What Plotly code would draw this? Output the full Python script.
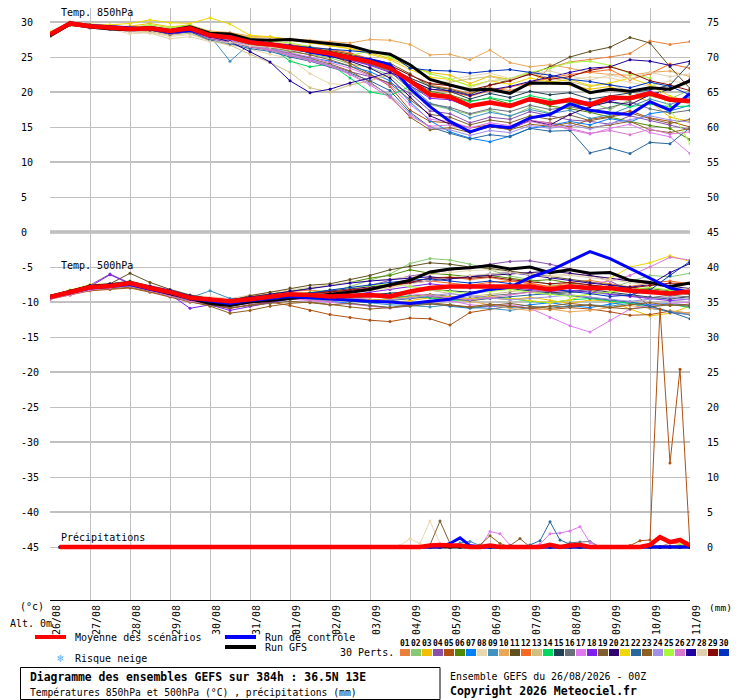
import plotly.graph_objects as go

# echeances (h) : temperatures toutes les 12h, precipitations toutes les 6h
hours = list(range(0, 385, 12))
rr_hours = list(range(6, 385, 6))
rr_first = 204   # avant cette echeance : aucune precipitation

date_hours = list(range(0, 385, 24))
date_labels = ["26/08", "27/08", "28/08", "29/08", "30/08", "31/08", "01/09", "02/09", "03/09",
               "04/09", "05/09", "06/09", "07/09", "08/09", "09/09", "10/09", "11/09"]
left_ticks = list(range(-45, 31, 5))
right_ticks = list(range(0, 76, 5))

pert_names = ["%02d" % i for i in range(1, 31)]
pert_colors = ["#e8803a", "#88c870", "#f0c000", "#8850a8", "#b05010", "#508800",
               "#0080ff", "#e8d8b0", "#4090c0", "#e8a858", "#605020", "#f86820",
               "#d0c080", "#00d860", "#204058", "#687078", "#e078f0", "#8020f0",
               "#806030", "#300070", "#f0d800", "#2868a0", "#906020", "#a090e8",
               "#a8f840", "#d878d0", "#2000a0", "#e0d0b0", "#880808", "#0030c0"]

# ---------------- Temp. 850hPa ----------------
t850_mean = [28.2, 29.8, 29.4, 29.2, 29.0, 29.1, 28.7, 29.1, 28.1, 27.8, 27.1, 26.8, 26.4, 26.0, 25.5, 24.9, 24.3,
             23.4, 21.6, 19.6, 19.3, 18.0, 18.5, 18.0, 19.0, 18.4, 18.9, 18.2, 19.2, 19.1, 19.8, 18.9, 18.7]
t850_ctrl = [28.3, 29.9, 29.5, 29.3, 29.1, 29.0, 28.5, 28.8, 28.0, 27.9, 27.2, 26.9, 26.5, 25.7, 25.2, 25.0, 24.6,
             23.9, 20.5, 17.9, 15.8, 14.3, 15.2, 14.9, 16.3, 16.8, 18.3, 17.4, 17.0, 16.8, 18.6, 17.4, 19.8]
t850_gfs = [28.0, 29.7, 29.3, 29.0, 28.9, 29.2, 28.8, 29.3, 28.4, 28.3, 27.5, 27.4, 27.5, 27.2, 27.0, 26.6, 25.8,
            25.4, 23.9, 21.8, 21.0, 20.3, 20.4, 19.8, 21.3, 21.3, 21.2, 19.9, 20.4, 20.1, 20.6, 20.4, 21.6]

t850_p01 = [28.0, 29.6, 29.3, 29.0, 28.8, 29.2, 28.5, 28.9, 28.0, 27.5, 26.8, 26.6, 26.5, 26.3, 26.0, 25.4, 24.5,
            23.8, 22.5, 21.0, 20.5, 19.8, 20.6, 20.2, 21.0, 23.5, 24.3, 24.6, 25.0, 25.5, 27.3, 26.8, 27.2]
t850_p02 = [28.4, 29.9, 29.5, 29.4, 29.1, 29.0, 28.9, 29.3, 28.3, 27.6, 27.0, 26.5, 25.7, 25.4, 24.9, 24.0, 23.5,
            22.4, 20.0, 18.2, 17.5, 16.8, 17.4, 16.5, 17.8, 17.0, 17.9, 18.6, 17.5, 18.9, 19.4, 19.0, 20.3]
t850_p03 = [28.1, 29.7, 29.6, 29.3, 29.4, 29.8, 29.3, 29.6, 28.6, 28.4, 27.8, 27.9, 27.4, 27.0, 26.6, 26.2, 25.6,
            24.8, 23.6, 22.8, 22.4, 21.2, 22.3, 21.8, 22.6, 21.5, 21.0, 20.4, 20.8, 19.6, 18.6, 16.4, 15.8]
t850_p04 = [28.3, 29.8, 29.2, 29.1, 28.6, 28.9, 28.2, 28.6, 27.6, 27.1, 26.4, 26.0, 25.2, 24.6, 23.8, 22.9, 22.2,
            21.3, 19.8, 17.3, 16.9, 15.6, 16.4, 16.1, 17.2, 16.6, 16.0, 15.8, 15.4, 16.6, 15.9, 15.2, 14.6]
t850_p05 = [28.0, 29.6, 29.4, 29.2, 29.0, 29.1, 28.4, 28.9, 28.2, 27.9, 27.0, 26.9, 26.6, 26.1, 25.3, 24.1, 22.6,
            20.8, 17.4, 15.8, 15.6, 14.9, 15.3, 15.0, 15.9, 15.6, 15.0, 16.1, 16.5, 17.3, 16.3, 15.8, 15.0]
t850_p06 = [28.4, 29.9, 29.3, 29.2, 29.1, 29.3, 28.9, 29.2, 28.3, 27.6, 27.2, 26.9, 26.2, 25.8, 25.1, 24.6, 23.9,
            23.1, 21.8, 20.1, 19.6, 18.7, 19.1, 18.3, 18.8, 18.0, 17.6, 17.1, 16.4, 15.8, 15.2, 14.8, 13.2]
t850_p07 = [28.2, 29.8, 29.4, 29.1, 29.2, 28.9, 28.6, 29.0, 27.9, 27.8, 26.9, 26.3, 25.5, 24.9, 24.4, 23.7, 22.9,
            21.6, 18.6, 15.9, 14.3, 13.4, 12.9, 13.7, 14.8, 15.2, 15.8, 15.3, 16.2, 15.7, 16.9, 17.3, 18.1]
t850_p08 = [27.9, 29.5, 29.5, 29.0, 28.3, 28.5, 27.9, 28.2, 27.4, 26.8, 26.1, 25.4, 24.8, 22.6, 21.2, 21.0, 21.6,
            22.8, 21.4, 20.6, 21.8, 22.3, 22.7, 21.9, 23.0, 22.5, 21.8, 22.1, 22.0, 21.4, 20.8, 21.6, 21.2]
t850_p09 = [28.3, 29.7, 29.3, 29.2, 29.0, 29.2, 28.8, 29.1, 28.0, 24.4, 26.9, 26.7, 26.0, 25.7, 25.3, 24.8, 24.0,
            23.2, 20.9, 18.4, 17.6, 16.3, 17.1, 16.6, 17.5, 16.9, 17.4, 16.2, 16.8, 17.9, 19.0, 18.2, 19.3]
t850_p10 = [28.5, 30.0, 29.6, 29.4, 29.3, 29.4, 29.1, 29.5, 28.7, 28.5, 28.0, 27.8, 27.6, 27.4, 27.2, 27.0, 27.5,
            27.4, 26.8, 25.3, 25.4, 24.6, 26.0, 24.2, 23.6, 23.9, 23.4, 22.8, 22.5, 22.4, 22.8, 23.0, 22.2]
t850_p11 = [28.2, 29.8, 29.5, 29.3, 29.1, 29.0, 28.6, 28.8, 28.0, 27.7, 27.0, 26.8, 26.5, 26.2, 25.9, 25.4, 24.8,
            24.1, 22.6, 20.8, 20.4, 19.6, 21.0, 21.8, 22.5, 23.6, 25.0, 25.8, 26.4, 27.8, 27.0, 23.6, 20.5]
t850_p12 = [28.3, 29.9, 29.5, 29.3, 29.0, 29.2, 28.8, 29.2, 28.4, 28.0, 27.3, 27.1, 26.8, 26.5, 26.1, 25.6, 24.7,
            23.6, 21.7, 20.4, 20.0, 19.4, 20.2, 20.7, 21.4, 22.0, 22.5, 22.9, 23.2, 21.8, 22.6, 24.0, 23.4]
t850_p13 = [28.1, 29.7, 29.2, 29.0, 28.7, 28.6, 28.1, 28.4, 27.3, 26.7, 25.4, 24.2, 22.8, 20.6, 20.0, 21.0, 21.6,
            22.5, 21.9, 21.0, 21.4, 21.9, 22.2, 21.6, 22.8, 22.0, 21.5, 20.8, 21.2, 20.0, 19.4, 18.8, 18.3]
t850_p14 = [28.0, 29.6, 29.3, 29.1, 29.0, 29.0, 28.5, 28.9, 28.0, 27.6, 26.9, 26.5, 24.4, 23.6, 24.0, 22.0, 20.0,
            19.5, 20.8, 19.5, 19.3, 18.6, 19.2, 18.7, 19.5, 18.9, 18.4, 18.1, 18.6, 17.9, 18.3, 17.9, 18.0]
t850_p15 = [28.3, 29.8, 29.4, 29.3, 29.1, 29.1, 28.7, 29.0, 28.1, 27.8, 27.1, 26.9, 26.5, 26.0, 25.4, 24.8, 24.3,
            23.5, 22.0, 20.8, 20.1, 19.0, 19.8, 19.2, 20.1, 19.6, 19.9, 19.0, 19.4, 19.8, 20.3, 21.0, 24.1]
t850_p16 = [28.4, 29.9, 29.6, 29.4, 29.3, 29.4, 28.9, 29.3, 28.4, 28.1, 27.4, 27.0, 26.6, 26.1, 25.6, 24.9, 24.0,
            22.9, 20.4, 18.3, 17.8, 16.9, 17.6, 17.2, 18.1, 17.5, 17.9, 17.3, 17.8, 18.6, 17.6, 17.0, 17.4]
t850_p17 = [28.2, 29.7, 29.2, 29.1, 28.9, 29.0, 28.4, 28.8, 27.8, 27.4, 26.6, 26.2, 25.6, 25.0, 24.2, 23.4, 22.3,
            21.0, 18.2, 16.1, 15.8, 14.9, 15.6, 15.2, 16.0, 15.5, 14.6, 14.0, 14.8, 15.4, 14.2, 13.6, 11.2]
t850_p18 = [28.3, 29.8, 29.4, 29.2, 29.0, 29.2, 28.7, 29.0, 28.2, 27.9, 27.2, 26.8, 26.4, 25.9, 25.3, 24.6, 23.8,
            22.8, 20.9, 19.1, 18.9, 17.8, 18.6, 18.1, 18.8, 18.3, 19.0, 18.5, 18.7, 19.3, 20.1, 19.2, 18.9]
t850_p19 = [28.1, 29.7, 29.3, 29.2, 29.0, 29.0, 28.6, 28.9, 27.9, 27.6, 26.8, 26.4, 25.9, 25.3, 24.6, 23.7, 22.5,
            21.2, 18.9, 16.8, 16.4, 15.3, 16.0, 15.6, 16.6, 16.1, 16.7, 15.9, 16.4, 17.0, 16.2, 15.5, 16.1]
t850_p20 = [28.2, 29.8, 29.5, 29.3, 29.0, 29.1, 28.6, 29.0, 28.1, 27.8, 27.1, 26.7, 26.2, 25.7, 25.1, 24.4, 23.4,
            22.0, 19.3, 16.6, 15.4, 14.4, 15.0, 14.7, 15.9, 15.3, 16.8, 17.9, 18.6, 18.2, 19.6, 20.4, 21.8]
t850_p21 = [28.6, 30.0, 29.7, 29.6, 29.8, 30.3, 29.9, 29.8, 30.6, 29.7, 28.1, 27.9, 27.5, 27.1, 26.7, 26.2, 25.4,
            24.6, 23.2, 22.1, 21.8, 20.9, 21.6, 21.1, 22.0, 21.4, 21.8, 20.9, 21.3, 22.0, 21.0, 19.4, 18.6]
t850_p22 = [28.3, 29.7, 29.3, 29.1, 28.8, 28.9, 28.3, 28.6, 27.4, 26.9, 26.2, 25.8, 25.0, 24.4, 23.6, 22.7, 21.6,
            20.2, 17.1, 15.0, 14.1, 13.3, 13.9, 13.6, 14.8, 14.4, 14.5, 11.3, 12.0, 11.2, 12.8, 12.6, 14.9]
t850_p23 = [28.0, 29.5, 29.2, 29.0, 28.8, 28.8, 28.3, 28.7, 27.7, 27.3, 26.5, 26.1, 25.5, 24.8, 24.0, 23.0, 21.4,
            19.4, 16.4, 14.6, 14.9, 14.2, 15.1, 14.6, 15.4, 15.1, 15.6, 14.9, 15.3, 15.8, 14.6, 14.2, 14.8]
t850_p24 = [28.2, 29.8, 29.4, 29.2, 29.0, 29.0, 28.5, 28.8, 27.8, 27.4, 26.6, 26.1, 25.4, 24.7, 23.8, 22.6, 21.2,
            19.6, 16.9, 14.9, 14.6, 13.8, 14.5, 14.2, 15.2, 14.8, 15.3, 14.7, 15.5, 16.0, 16.6, 16.0, 15.7]
t850_p25 = [28.4, 29.9, 29.6, 29.4, 29.2, 29.6, 29.2, 29.5, 28.5, 28.2, 27.6, 27.3, 27.0, 26.5, 25.9, 25.2, 25.9,
            25.0, 23.8, 22.6, 21.9, 20.8, 21.6, 21.9, 22.8, 23.4, 24.2, 24.4, 23.8, 22.6, 22.0, 17.6, 12.6]
t850_p26 = [28.1, 29.6, 29.1, 29.0, 28.8, 28.9, 28.4, 28.7, 27.7, 27.3, 26.5, 26.0, 25.2, 24.5, 23.7, 22.5, 21.0,
            19.2, 16.6, 15.1, 15.3, 14.4, 15.1, 14.9, 15.8, 15.2, 14.8, 14.1, 14.5, 13.9, 14.7, 14.0, 14.3]
t850_p27 = [28.3, 29.8, 29.4, 29.2, 29.0, 29.0, 28.5, 28.9, 27.9, 27.2, 25.8, 24.3, 21.6, 19.9, 20.4, 21.3, 22.0,
            22.8, 21.7, 20.4, 20.2, 19.5, 20.3, 20.8, 21.5, 22.2, 22.8, 23.4, 23.6, 24.6, 24.4, 23.8, 24.4]
t850_p28 = [28.0, 29.6, 29.3, 29.1, 28.6, 28.4, 27.6, 27.9, 27.2, 27.1, 26.6, 26.4, 26.0, 25.8, 25.4, 25.0, 24.6,
            24.0, 22.4, 21.3, 21.0, 20.6, 21.6, 21.8, 22.6, 23.0, 22.3, 21.7, 22.4, 21.9, 22.8, 22.2, 22.6]
t850_p29 = [28.4, 29.9, 29.5, 29.3, 29.1, 29.2, 28.8, 29.1, 28.2, 27.9, 27.3, 27.0, 26.7, 26.3, 25.8, 25.2, 24.6,
            23.8, 22.4, 21.2, 20.9, 20.3, 21.0, 21.6, 22.6, 21.8, 22.2, 23.1, 23.6, 22.8, 21.6, 21.0, 20.2]
t850_p30 = [28.2, 29.8, 29.6, 29.3, 29.1, 29.1, 28.7, 29.1, 28.1, 27.8, 27.2, 26.9, 26.6, 26.4, 26.1, 25.9, 25.6,
            25.4, 23.4, 23.1, 23.0, 22.7, 23.0, 23.2, 22.8, 22.4, 21.8, 21.5, 21.0, 20.6, 21.4, 20.8, 19.6]

# ---------------- Temp. 500hPa ----------------
t500_mean = [-9.3, -8.6, -7.9, -7.7, -7.3, -8.0, -8.6, -9.4, -9.7, -9.9, -9.6, -9.3, -8.9, -9.0, -9.2, -9.1, -9.0,
             -9.2, -8.5, -8.0, -7.8, -7.8, -7.8, -7.9, -7.8, -8.2, -7.8, -8.0, -8.0, -8.4, -8.6, -8.8, -8.5]
t500_ctrl = [-9.3, -8.7, -8.0, -7.8, -7.5, -8.2, -8.7, -9.5, -9.9, -10.2, -9.8, -9.5, -9.2, -9.4, -9.6, -9.8, -9.9,
             -10.0, -10.2, -9.9, -9.6, -8.8, -8.2, -7.9, -6.5, -5.5, -4.2, -2.8, -3.8, -5.2, -6.6, -8.0, -8.6]
t500_gfs = [-9.2, -8.5, -7.8, -7.6, -7.4, -8.1, -8.8, -9.6, -10.2, -10.5, -10.0, -9.8, -9.5, -9.3, -9.0, -8.6, -8.2,
            -7.6, -6.9, -5.7, -5.3, -5.1, -4.8, -5.3, -5.0, -5.8, -5.4, -5.9, -5.8, -6.9, -7.2, -7.8, -7.3]

t500_p01 = [-9.1, -8.4, -7.7, -7.5, -7.2, -7.9, -8.5, -9.2, -9.5, -9.7, -9.2, -8.8, -8.5, -8.3, -8.6, -8.4, -8.0,
            -7.8, -7.2, -6.6, -6.4, -6.8, -6.5, -7.0, -7.3, -7.8, -7.2, -6.9, -7.4, -7.9, -8.3, -8.6, -8.9]
t500_p02 = [-9.4, -8.7, -8.0, -7.8, -7.5, -8.2, -8.8, -9.6, -10.0, -10.3, -9.9, -9.6, -9.3, -9.0, -8.6, -7.8, -6.9,
            -6.0, -4.5, -3.8, -4.0, -4.6, -5.4, -6.3, -6.8, -7.5, -7.9, -8.3, -8.0, -7.1, -6.2, -6.4, -5.9]
t500_p03 = [-9.2, -8.5, -7.6, -7.6, -7.4, -7.8, -8.5, -9.4, -9.9, -10.1, -9.7, -9.4, -9.0, -9.3, -9.5, -9.8, -10.0,
            -10.1, -9.8, -9.4, -9.6, -9.9, -9.4, -9.7, -9.3, -9.8, -10.2, -9.7, -9.9, -11.0, -12.0, -11.6, -10.6]
t500_p04 = [-9.3, -8.5, -7.6, -6.0, -7.3, -8.0, -8.7, -9.6, -10.4, -10.9, -10.5, -10.0, -9.5, -9.2, -8.8, -8.4, -7.6,
            -6.9, -6.3, -5.9, -5.5, -5.0, -4.6, -4.2, -4.1, -4.6, -5.3, -6.2, -7.0, -8.4, -10.6, -11.5, -11.8]
t500_p05 = [-9.6, -9.0, -8.4, -8.2, -8.0, -8.6, -9.3, -10.0, -10.5, -10.9, -10.4, -10.0, -10.5, -11.2, -11.8, -12.2, -12.6,
            -12.8, -12.3, -12.4, -13.3, -11.5, -11.0, -10.6, -10.9, -11.1, -10.8, -11.0, -11.4, -11.9, -11.8, -11.3, -11.6]
t500_p06 = [-9.2, -8.4, -7.7, -7.4, -7.0, -7.7, -8.4, -9.2, -9.6, -9.9, -9.3, -8.9, -8.4, -8.1, -7.6, -7.2, -6.6,
            -6.2, -5.4, -5.9, -6.1, -6.4, -6.2, -6.6, -7.0, -6.8, -7.3, -7.6, -7.9, -8.2, -8.1, -8.4, -8.7]
t500_p07 = [-9.4, -8.8, -8.2, -8.0, -7.6, -8.3, -8.9, -9.8, -10.2, -10.4, -10.1, -9.8, -9.4, -9.6, -9.9, -10.3, -10.6,
            -10.8, -10.5, -10.2, -10.6, -10.9, -10.6, -10.8, -10.4, -10.1, -10.5, -10.8, -10.3, -10.0, -10.4, -10.2, -10.5]
t500_p08 = [-9.1, -8.3, -7.6, -7.5, -7.2, -7.6, -8.2, -9.0, -9.3, -9.5, -9.0, -8.6, -8.2, -7.9, -7.6, -7.2, -7.0,
            -6.7, -6.4, -6.1, -5.7, -5.5, -5.4, -5.6, -5.9, -6.2, -6.0, -6.3, -6.6, -7.0, -7.5, -7.8, -8.0]
t500_p09 = [-9.3, -8.6, -7.8, -7.7, -7.3, -8.0, -8.5, -9.4, -8.4, -9.5, -9.4, -9.4, -9.0, -9.3, -9.6, -9.9, -10.2,
            -10.4, -10.5, -10.7, -10.4, -10.8, -10.9, -11.2, -10.8, -10.6, -10.7, -10.4, -10.6, -10.2, -10.9, -11.4, -11.8]
t500_p10 = [-9.2, -8.5, -7.8, -7.6, -7.3, -7.9, -8.6, -9.3, -9.6, -9.8, -9.4, -9.1, -8.8, -9.0, -9.2, -9.4, -9.6,
            -9.8, -9.5, -9.3, -9.6, -9.9, -10.4, -10.9, -11.2, -11.0, -11.4, -11.2, -10.8, -10.5, -10.9, -11.2, -11.6]
t500_p11 = [-9.5, -8.8, -7.9, -7.4, -5.9, -7.2, -8.2, -9.0, -9.5, -9.8, -9.1, -8.6, -8.0, -7.6, -7.4, -6.8, -6.2,
            -5.4, -4.9, -4.4, -4.6, -5.0, -5.2, -5.6, -6.0, -6.4, -6.8, -7.2, -7.6, -8.0, -8.4, -8.7, -8.9]
t500_p12 = [-9.3, -8.6, -7.9, -7.7, -7.4, -8.1, -8.7, -9.5, -9.8, -10.0, -9.7, -9.3, -9.0, -8.8, -8.6, -8.3, -8.0,
            -7.6, -7.3, -7.0, -7.3, -7.6, -7.2, -7.0, -7.4, -7.8, -7.5, -7.9, -8.2, -7.8, -7.3, -7.0, -7.4]
t500_p13 = [-9.2, -8.5, -7.7, -7.6, -7.4, -7.9, -8.6, -9.5, -9.9, -10.1, -9.8, -9.5, -9.2, -9.4, -9.7, -9.6, -9.3,
            -9.0, -8.6, -8.3, -8.8, -9.2, -8.9, -8.5, -8.2, -8.6, -8.9, -9.3, -9.7, -10.1, -9.6, -9.2, -9.5]
t500_p14 = [-9.4, -8.7, -8.0, -7.8, -7.6, -8.2, -8.9, -9.6, -10.0, -10.2, -9.9, -9.6, -9.4, -9.6, -9.8, -9.5, -9.2,
            -9.4, -9.1, -9.4, -9.8, -9.6, -9.3, -9.5, -9.9, -10.1, -9.7, -9.5, -9.8, -10.2, -10.6, -10.3, -10.8]
t500_p15 = [-9.3, -8.6, -7.9, -7.7, -7.4, -8.0, -8.6, -9.4, -9.8, -10.0, -9.6, -9.3, -9.0, -9.1, -9.3, -9.2, -9.0,
            -8.8, -8.5, -8.2, -8.4, -8.6, -8.3, -8.1, -8.4, -8.7, -8.5, -8.2, -8.6, -9.0, -9.3, -9.6, -9.2]
t500_p16 = [-9.2, -8.5, -7.8, -7.6, -7.3, -7.9, -8.5, -9.3, -9.7, -9.9, -9.5, -9.2, -8.9, -9.1, -9.4, -9.6, -9.8,
            -9.5, -9.2, -8.9, -9.2, -9.5, -9.1, -8.8, -8.6, -8.9, -8.7, -8.4, -8.8, -9.1, -9.4, -9.0, -9.3]
t500_p17 = [-9.4, -8.8, -8.1, -7.9, -7.6, -8.3, -9.0, -9.8, -10.3, -10.6, -10.2, -9.9, -9.6, -9.8, -10.0, -10.3, -10.6,
            -10.9, -10.4, -10.0, -9.8, -10.4, -10.6, -10.4, -10.9, -12.2, -13.4, -14.3, -12.6, -11.0, -10.5, -10.2, -10.0]
t500_p18 = [-9.3, -8.6, -7.8, -6.1, -7.4, -8.1, -8.9, -10.9, -10.4, -11.2, -10.6, -10.1, -9.6, -9.4, -9.2, -9.0, -8.6,
            -8.2, -7.8, -7.4, -7.7, -8.0, -7.6, -7.9, -8.2, -8.5, -8.3, -8.6, -8.9, -9.2, -9.5, -9.8, -9.6]
t500_p19 = [-9.5, -8.9, -8.2, -8.0, -7.7, -8.4, -9.1, -9.9, -10.4, -10.8, -10.5, -10.2, -9.9, -10.1, -10.4, -10.2, -10.5,
            -10.8, -10.6, -10.3, -10.5, -10.8, -10.5, -10.2, -10.6, -10.9, -10.6, -10.4, -10.8, -11.0, -10.7, -10.4, -10.6]
t500_p20 = [-9.2, -8.5, -7.7, -7.5, -7.2, -7.8, -8.5, -9.4, -9.9, -10.2, -9.8, -9.4, -9.0, -8.7, -8.4, -8.1, -7.8,
            -7.5, -7.2, -6.9, -6.6, -6.4, -6.2, -6.0, -5.8, -5.6, -5.9, -6.2, -6.6, -7.0, -7.4, -7.8, -8.1]
t500_p21 = [-9.1, -8.3, -7.5, -7.4, -7.2, -7.8, -8.4, -9.2, -9.6, -9.9, -9.4, -9.1, -8.8, -9.0, -9.3, -9.5, -9.8,
            -9.6, -9.3, -9.0, -9.3, -9.6, -9.2, -9.5, -9.8, -10.1, -9.7, -8.8, -6.6, -5.0, -4.4, -3.4, -4.2]
t500_p22 = [-9.3, -8.6, -7.9, -7.7, -7.4, -8.0, -8.6, -9.5, -9.9, -10.2, -9.8, -9.5, -9.2, -9.4, -9.6, -9.9, -10.1,
            -9.8, -9.5, -9.2, -9.5, -9.8, -9.5, -9.2, -9.0, -8.8, -9.1, -9.4, -9.7, -10.0, -10.6, -11.4, -12.4]
t500_p23 = [-9.5, -8.9, -8.3, -8.1, -7.9, -8.5, -9.2, -10.0, -10.6, -11.6, -11.2, -10.6, -10.2, -10.0, -10.4, -10.7, -11.0,
            -10.8, -10.4, -10.1, -10.4, -10.7, -10.3, -10.6, -10.9, -10.6, -10.2, -10.5, -10.8, -10.4, -10.1, -10.5, -10.3]
t500_p24 = [-9.3, -8.6, -7.8, -7.6, -7.3, -7.9, -8.6, -9.4, -9.8, -10.0, -9.7, -9.4, -9.1, -9.3, -9.5, -9.7, -9.9,
            -9.7, -9.4, -9.1, -8.8, -9.1, -9.4, -9.7, -9.5, -9.2, -9.0, -9.3, -9.6, -9.9, -9.6, -9.3, -9.7]
t500_p25 = [-9.2, -8.5, -7.7, -7.5, -7.3, -7.8, -8.4, -9.3, -9.7, -9.9, -9.5, -9.2, -8.9, -8.6, -8.2, -7.9, -7.6,
            -7.4, -7.8, -8.2, -8.5, -8.8, -8.5, -8.2, -8.6, -8.9, -9.2, -8.9, -8.6, -8.2, -7.9, -8.3, -8.6]
t500_p26 = [-9.6, -9.0, -8.3, -8.0, -7.7, -8.4, -9.1, -9.9, -10.3, -10.5, -10.1, -9.8, -9.5, -9.7, -9.9, -9.6, -9.3,
            -9.1, -8.8, -9.1, -9.4, -9.7, -9.4, -9.0, -8.6, -8.2, -7.8, -7.4, -7.0, -6.2, -5.0, -3.6, -4.0]
t500_p27 = [-9.2, -8.4, -7.6, -7.4, -7.1, -7.7, -8.3, -9.1, -9.5, -9.7, -9.3, -8.9, -8.4, -8.0, -7.6, -7.3, -7.0,
            -6.8, -6.5, -6.4, -6.7, -6.3, -6.0, -5.8, -6.2, -6.6, -6.9, -7.3, -7.6, -7.9, -7.5, -5.8, -4.5]
t500_p28 = [-9.3, -8.6, -7.9, -7.7, -7.4, -8.1, -8.8, -9.5, -9.9, -10.1, -9.8, -9.6, -9.3, -9.1, -8.9, -8.6, -8.3,
            -8.0, -7.4, -6.9, -6.5, -6.2, -6.0, -5.8, -6.1, -6.4, -6.2, -6.5, -6.8, -7.2, -7.6, -7.9, -8.2]
t500_p29 = [-9.4, -8.7, -8.0, -7.8, -7.5, -8.2, -8.8, -9.6, -10.0, -10.2, -9.8, -9.5, -9.1, -8.8, -8.5, -8.3, -8.1,
            -7.7, -7.2, -6.6, -6.5, -6.6, -6.4, -6.8, -7.1, -7.4, -7.2, -7.6, -7.9, -8.0, -7.6, -7.3, -7.4]
t500_p30 = [-9.3, -8.6, -7.8, -7.7, -7.4, -8.0, -8.7, -9.5, -9.9, -10.1, -9.7, -9.4, -9.0, -8.7, -8.3, -7.9, -7.5,
            -7.2, -6.9, -6.7, -7.0, -7.3, -7.0, -7.4, -7.8, -8.1, -8.5, -8.8, -9.2, -9.0, -8.3, -6.2, -4.2]

# ---------------- Precipitations (mm), echeances 204h a 384h ----------------
rr_mean = [0, 0, 0, 0, 0.2, 0.3, 0.2, 0.2, 0, 0, 0.2, 0, 0, 0, 0, 0, 0.3, 0, 0.2, 0.3,
           0, 0, 0, 0, 0, 0, 0.3, 1.4, 0.7, 1.0, 0.2]
rr_ctrl = [0, 0, 0, 0, 0, 0, 0.5, 1.3, 0.2, 0, 0, 0, 0, 0, 0, 0, 0, 0, 0, 0,
           0, 0, 0, 0, 0, 0, 0, 0, 0, 0, 0]
rr_gfs = [0, 0, 0, 0, 0, 0, 0, 0, 0, 0, 0, 0, 0, 0, 0, 0, 0, 0, 0, 0,
          0, 0, 0, 0, 0, 0, 0, 0, 0, 0, 0]
rr_p01 = [0, 0, 0, 0, 0, 0, 0, 0, 0, 0, 0, 0, 0, 0, 0, 0, 0, 0, 0, 0,
          0, 0, 0, 0, 0, 0, 0, 0, 0.6, 0.4, 0]
rr_p05 = [0, 0, 0, 0, 0, 0, 0, 0, 0, 0, 0, 0, 0, 0, 0, 0, 0, 0, 0, 0,
          0, 0, 0, 0, 0.2, 0.9, 1.0, 34.0, 12.0, 25.4, 0]
rr_p08 = [0, 0.2, 1.2, 0.5, 3.7, 0.5, 0, 0, 0, 0, 0, 0, 0, 0, 0, 0, 0, 0, 0, 0,
          0, 0, 0, 0, 0, 0, 0, 0, 0, 0, 0]
rr_p09 = [0, 0, 0, 0, 0, 0, 0, 0.6, 0.8, 0.2, 0, 0, 0, 0, 0, 0, 0, 0, 0, 0,
          0, 0, 0, 0, 0, 0, 0, 0, 0, 0, 0]
rr_p16 = [0, 0, 0, 0, 0, 0, 0, 0, 0, 0, 0, 0, 0, 0, 0, 0, 0, 0, 0.6, 0.7,
          0.8, 0, 0, 0, 0, 0, 0, 0, 0, 0, 0]
rr_p17 = [0, 0, 0, 0, 0, 0, 0, 0, 0, 0, 2.2, 1.9, 0.3, 0, 0, 0.4, 1.9, 2.0, 2.3, 2.9,
          0.6, 0, 0, 0, 0, 0, 0, 0, 0, 0, 0]
rr_p19 = [0, 0, 0, 0, 0.3, 3.7, 0.5, 0, 0, 0, 0, 0, 0.2, 1.2, 0, 0, 0, 0, 0, 0,
          0, 0, 0, 0, 0, 0, 0, 0, 0, 0, 0]
rr_p22 = [0, 0, 0, 0, 0, 0, 0, 0, 0, 0, 0, 0, 0, 0, 0.3, 0.9, 3.6, 1.0, 0.4, 0,
          0, 0, 0, 0, 0, 0, 0, 0, 0, 0, 0]
rr_p23 = [0, 0, 0, 0, 0, 0, 0, 0, 0, 0.3, 1.6, 0.5, 0, 0, 0, 0, 0, 0, 0, 0,
          0, 0, 0, 0, 0, 0, 0, 0, 0, 0, 0]
rr_p25 = [0, 0, 0, 0, 0, 0, 0, 0, 0, 0, 0, 0, 0, 0, 0, 0, 0, 0, 0, 0,
          0, 0, 0, 0, 0, 0, 0, 0, 0, 0.4, 0]

t850_perts = [t850_p01, t850_p02, t850_p03, t850_p04, t850_p05, t850_p06, t850_p07, t850_p08, t850_p09, t850_p10,
              t850_p11, t850_p12, t850_p13, t850_p14, t850_p15, t850_p16, t850_p17, t850_p18, t850_p19, t850_p20,
              t850_p21, t850_p22, t850_p23, t850_p24, t850_p25, t850_p26, t850_p27, t850_p28, t850_p29, t850_p30]
t500_perts = [t500_p01, t500_p02, t500_p03, t500_p04, t500_p05, t500_p06, t500_p07, t500_p08, t500_p09, t500_p10,
              t500_p11, t500_p12, t500_p13, t500_p14, t500_p15, t500_p16, t500_p17, t500_p18, t500_p19, t500_p20,
              t500_p21, t500_p22, t500_p23, t500_p24, t500_p25, t500_p26, t500_p27, t500_p28, t500_p29, t500_p30]
rr_perts = {"01": rr_p01, "05": rr_p05, "08": rr_p08, "09": rr_p09, "16": rr_p16, "17": rr_p17,
            "19": rr_p19, "22": rr_p22, "23": rr_p23, "25": rr_p25}

n_dry = len([h for h in rr_hours if h < rr_first])


def full_rr(vals):
    return [0.0] * n_dry + vals


# la page a une marge de 8px : zone de trace de y=8 a y=600 (pixels de la page)
# axe gauche en degres, axe droit = gauche + 45 (mm pour les precip)
y_lo, y_hi = -52.571, 32.0
FONT = "DejaVu Sans Mono"

fig = go.Figure()

for name, col, t85, t50 in zip(pert_names, pert_colors, t850_perts, t500_perts):
    for ys in (t85, t50):
        fig.add_trace(go.Scatter(x=hours, y=ys, mode="lines+markers",
                                 line=dict(color=col, width=1), marker=dict(color=col, size=3),
                                 hoverinfo="skip"))
    rr = rr_perts.get(name, rr_gfs)
    fig.add_trace(go.Scatter(x=rr_hours, y=full_rr(rr), yaxis="y2", mode="lines+markers",
                             line=dict(color=col, width=1), marker=dict(color=col, size=3),
                             hoverinfo="skip"))

for ys85, ys50, rr, col, w in [(t850_gfs, t500_gfs, rr_gfs, "black", 3),
                               (t850_ctrl, t500_ctrl, rr_ctrl, "#0000ff", 3),
                               (t850_mean, t500_mean, rr_mean, "#ff0000", 4.5)]:
    fig.add_trace(go.Scatter(x=hours, y=ys85, mode="lines", line=dict(color=col, width=w)))
    fig.add_trace(go.Scatter(x=hours, y=ys50, mode="lines", line=dict(color=col, width=w)))
    fig.add_trace(go.Scatter(x=rr_hours, y=full_rr(rr), yaxis="y2", mode="lines",
                             line=dict(color=col, width=w)))


# coordonnees page -> paper
def px(x):
    return (x - 50) / 640.0


def py(y):
    return (600 - y) / 592.0


shapes = []
# lignes horizontales renforcees tous les 10
for v in [30, 20, 10, -10, -20, -30, -40]:
    shapes.append(dict(type="line", xref="paper", yref="y", x0=0, x1=1, y0=v, y1=v,
                       line=dict(color="#c0c0c0", width=2), layer="below"))
shapes.append(dict(type="line", xref="paper", yref="y", x0=0, x1=1, y0=0, y1=0,
                   line=dict(color="#989898", width=3), layer="below"))
shapes.append(dict(type="line", xref="paper", yref="y", x0=0, x1=1, y0=0, y1=0,
                   line=dict(color="#e4e4e4", width=1), layer="below"))

# legende
for x0, x1, yy, col in [(35, 66, 637, "#ff0000"), (225, 256, 637, "#0000ff"), (225, 256, 647, "black")]:
    shapes.append(dict(type="line", xref="paper", yref="paper", x0=px(x0), x1=px(x1), y0=py(yy), y1=py(yy),
                       line=dict(color=col, width=4)))
for i, col in enumerate(pert_colors):
    shapes.append(dict(type="rect", xref="paper", yref="paper", x0=px(400 + 11 * i), x1=px(410 + 11 * i),
                       y0=py(656), y1=py(649), fillcolor=col, line=dict(width=0)))
shapes.append(dict(type="rect", xref="paper", yref="paper", x0=px(20.5), x1=px(440), y0=py(699.5), y1=py(667.5),
                   line=dict(color="black", width=1)))

annotations = []


def note(text, x, y, size=10, color="black", anchor="left"):
    annotations.append(dict(text=text, x=px(x), y=py(y), xref="paper", yref="paper", showarrow=False,
                            xanchor=anchor, yanchor="middle", borderpad=0,
                            font=dict(family=FONT, size=size, color=color)))


note("Temp. 850hPa", 60, 12)
note("Temp. 500hPa", 60, 265)
note("Précipitations", 60, 537)
note("(°c)", 19, 606)
note("Alt. 0m", 9, 623)
note("(mm)", 708, 607, size=9.5)
note("Moyenne des scénarios", 74, 637)
note("Run de contrôle", 264, 637)
note("Run GFS", 264, 647)
note("❄", 60, 658, size=11, color="#60b0ff", anchor="center")
note("Risque neige", 74, 659)
note("30 Perts.", 339, 652)
for i, name in enumerate(pert_names):
    note("<b>" + name + "</b>", 405 + 11 * i, 643, size=8, anchor="center")
note("<b>Diagramme des ensembles GEFS sur 384h : 36.5N 13E</b>", 29, 677, size=11.4)
note("Températures 850hPa et 500hPa (°C) , précipitations (mm)", 29, 692, size=9.7)
note("Ensemble GEFS du 26/08/2026 - 00Z", 449, 676, size=9.9)
note("<b>Copyright 2026 Meteociel.fr</b>", 449, 691, size=11.5)

left_text = [str(v) + "\u00a0" * (3 - len(str(v))) for v in left_ticks]

fig.update_layout(
    width=732, height=692,
    margin=dict(l=42, r=50, t=0, b=100, autoexpand=False),
    paper_bgcolor="white", plot_bgcolor="white", showlegend=False,
    font=dict(family=FONT, size=10, color="black"),
    xaxis=dict(range=[0, 384], tickvals=date_hours, ticktext=date_labels, tickangle=-90,
               showgrid=True, gridcolor="#c0c0c0", gridwidth=1, zeroline=False,
               showline=True, linecolor="black", linewidth=1, ticks="", ticklabelshift=7,
               tickfont=dict(family=FONT, size=10)),
    yaxis=dict(range=[y_lo, y_hi], tickvals=left_ticks, ticktext=left_text, showgrid=True,
               gridcolor="#c0c0c0", gridwidth=1, zeroline=False, ticks="", ticklabelstandoff=10,
               tickfont=dict(family=FONT, size=10)),
    yaxis2=dict(range=[y_lo + 45, y_hi + 45], overlaying="y", side="right", tickvals=right_ticks,
                showgrid=False, zeroline=False, ticks="", ticklabelstandoff=16,
                tickfont=dict(family=FONT, size=10)),
    shapes=shapes, annotations=annotations,
)

fig.write_html("out.html")
